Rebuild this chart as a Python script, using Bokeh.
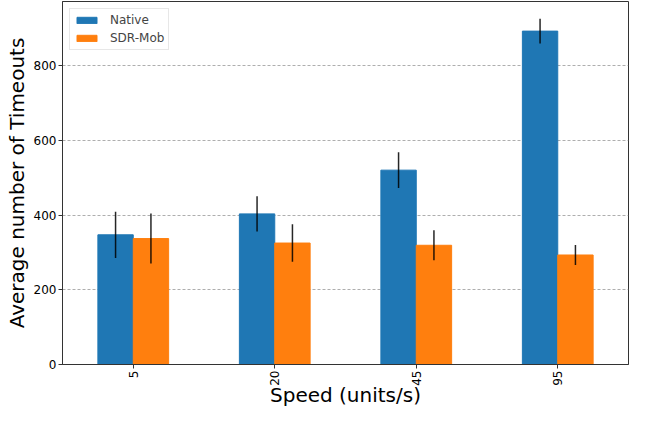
import math
from bokeh.plotting import figure
from bokeh.models import FactorRange, Range1d, Legend, LegendItem, ColumnDataSource
from bokeh.transform import dodge
from bokeh.embed import file_html
from bokeh.resources import INLINE

speeds = ["5", "20", "45", "95"]
native = [347, 403, 520, 892]
native_err = [62, 47, 48, 33]
sdr = [337, 325, 319, 293]
sdr_err = [67, 50, 40, 27]

BLUE = "#1f77b4"
ORANGE = "#ff7f0e"
FONT = "DejaVu Sans"

src = ColumnDataSource(dict(
    speed=speeds,
    native=native,
    native_lo=[v - e for v, e in zip(native, native_err)],
    native_hi=[v + e for v, e in zip(native, native_err)],
    sdr=sdr,
    sdr_lo=[v - e for v, e in zip(sdr, sdr_err)],
    sdr_hi=[v + e for v, e in zip(sdr, sdr_err)],
))

top = max(max(src.data["native_hi"]), max(src.data["sdr_hi"])) * 1.05

p = figure(width=629, height=409, output_backend="svg", toolbar_location=None,
           x_range=FactorRange(factors=speeds, range_padding=0),
           y_range=Range1d(0, top),
           min_border_left=62, min_border_right=1, min_border_top=1, min_border_bottom=0)

r1 = p.vbar(x=dodge("speed", -0.125, range=p.x_range), top="native", width=0.25,
            source=src, fill_color=BLUE, line_color=BLUE)
r2 = p.vbar(x=dodge("speed", 0.125, range=p.x_range), top="sdr", width=0.25,
            source=src, fill_color=ORANGE, line_color=ORANGE)
p.segment(x0=dodge("speed", -0.125, range=p.x_range), x1=dodge("speed", -0.125, range=p.x_range),
          y0="native_lo", y1="native_hi", source=src, line_color="black", line_width=1.5, line_alpha=0.85)
p.segment(x0=dodge("speed", 0.125, range=p.x_range), x1=dodge("speed", 0.125, range=p.x_range),
          y0="sdr_lo", y1="sdr_hi", source=src, line_color="black", line_width=1.5, line_alpha=0.85)

p.outline_line_color = "#333333"
p.outline_line_width = 1
p.xgrid.grid_line_color = None
p.ygrid.grid_line_color = "#999999"
p.ygrid.grid_line_dash = "3 2"
p.ygrid.grid_line_width = 0.8

for ax in (p.xaxis[0], p.yaxis[0]):
    ax.axis_line_color = "#333333"
    ax.major_tick_line_color = "#333333"
    ax.major_tick_in = 0
    ax.major_tick_out = 4
    ax.minor_tick_line_color = None
    ax.major_label_text_font = FONT
    ax.major_label_text_font_size = "12px"
    ax.major_label_text_color = "black"
    ax.axis_label_text_font = FONT
    ax.axis_label_text_font_size = "20px"
    ax.axis_label_text_font_style = "normal"
    ax.axis_label_text_color = "black"
    ax.major_label_standoff = 2
    ax.axis_label_standoff = 2

p.xaxis.axis_label = "Speed (units/s)"
p.yaxis.axis_label = "Average number of Timeouts"
p.xaxis.major_label_orientation = math.pi / 2
p.xaxis.axis_label_standoff = -6
p.yaxis.ticker = [0, 200, 400, 600, 800]

legend = Legend(items=[LegendItem(label="Native", renderers=[r1]),
                       LegendItem(label="SDR-Mob", renderers=[r2])],
                location="top_left", margin=7, padding=4, spacing=4,
                glyph_width=25, glyph_height=8, label_height=14, label_standoff=11,
                label_text_font=FONT, label_text_font_size="12px",
                border_line_color="#d0d0d0", border_line_width=1,
                background_fill_alpha=0.8)
p.add_layout(legend)

open("out.html", "w").write(file_html(p, INLINE))
